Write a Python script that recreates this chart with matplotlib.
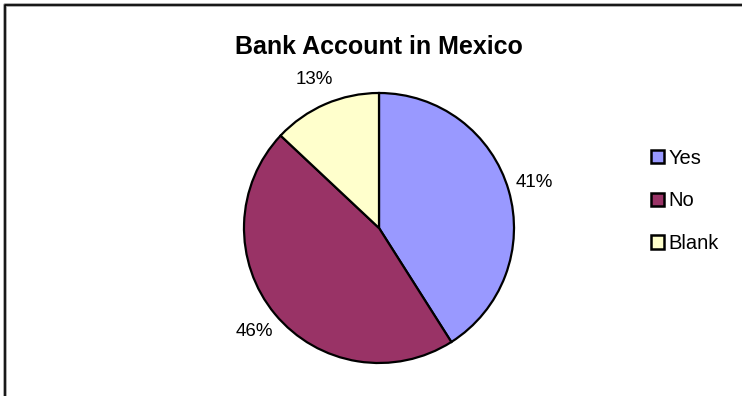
import matplotlib
matplotlib.use("Agg")
import matplotlib.pyplot as plt
from matplotlib.patches import Patch
from matplotlib.lines import Line2D

plt.rcParams['font.family'] = ['Liberation Sans', 'DejaVu Sans']

title = "Bank Account in Mexico"
categories = ["Yes", "No", "Blank"]
values = [41, 46, 13]
colors = ["#9999FF", "#993366", "#FFFFCC"]

W, H = 742, 396
fig = plt.figure(figsize=(W / 100, H / 100), dpi=100)
fig.patch.set_facecolor("white")

# outer frame (cut at right and bottom)
fig.add_artist(Line2D([4.5 / W, 4.5 / W, 1.01], [-0.01, 1 - 4.5 / H, 1 - 4.5 / H],
                      transform=fig.transFigure, color="#9a9a9a", lw=2.6))
fig.add_artist(Line2D([5.2 / W, 5.2 / W, 1.01], [-0.01, 1 - 5.2 / H, 1 - 5.2 / H],
                      transform=fig.transFigure, color="black", lw=1.2))

cx, cy, R = 379, 228, 135
ax = fig.add_axes([(cx - R) / W, (H - cy - R) / H, 2 * R / W, 2 * R / H])
wedges, texts, autotexts = ax.pie(
    values, colors=colors, startangle=90, counterclock=False,
    autopct=lambda p: f"{p:.0f}%", pctdistance=1.2,
    wedgeprops=dict(edgecolor="black", linewidth=1.6),
    textprops=dict(fontsize=13.5, color="black"))
ax.set_xlim(-1, 1)
ax.set_ylim(-1, 1)
ax.set_aspect("equal")
ax.axis("off")

fig.text(cx / W, 1 - 47 / H, title, ha="center", va="center",
         fontsize=18, fontweight="bold")

handles = [Patch(facecolor=c, edgecolor="black", linewidth=1.8) for c in colors]
leg = fig.legend(handles, categories, loc="center left",
                 bbox_to_anchor=(641 / W, 1 - 201 / H), frameon=False,
                 fontsize=14.5, handlelength=0.65, handleheight=0.65,
                 handletextpad=0.2, labelspacing=1.18, borderpad=0.0)

fig.savefig("out.png", dpi=100)
